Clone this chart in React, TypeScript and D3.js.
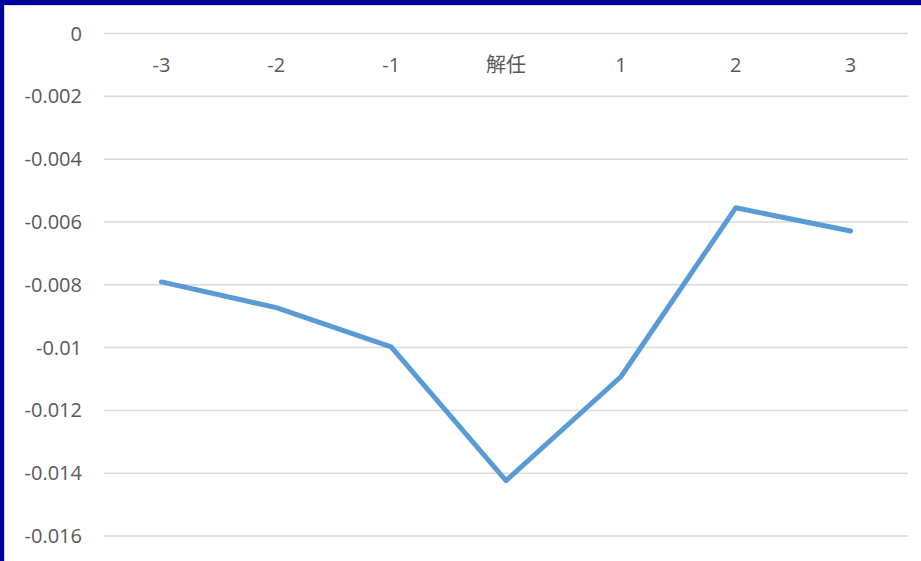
import React from "react";
import * as d3 from "d3";

const categories = ["-3", "-2", "-1", "解任", "1", "2", "3"];
const values = [-0.00791, -0.00873, -0.00998, -0.01424, -0.01093, -0.00555, -0.00629];
const yTicks = [0, -0.002, -0.004, -0.006, -0.008, -0.01, -0.012, -0.014, -0.016];

const W = 921;
const H = 561;

export default function App() {
  const x = d3.scaleBand<string>().domain(categories).range([104, 908]);
  const y = d3.scaleLinear().domain([-0.016, 0]).range([536, 33.5]);
  const line = d3
    .line<number>()
    .x((_, i) => (x(categories[i]) as number) + x.bandwidth() / 2)
    .y((d) => y(d));
  const font = "'Open Sans', 'Noto Sans CJK JP', sans-serif";
  return (
    <svg
      width={W}
      height={H}
      style={{ position: "absolute", left: 0, top: 0, background: "#fff" }}
    >
      <rect x={0} y={0} width={W} height={H} fill="#fff" />
      {yTicks.map((t) => (
        <g key={t}>
          <line
            x1={104}
            x2={908}
            y1={y(t)}
            y2={y(t)}
            stroke="#D9D9D9"
            strokeWidth={1.5}
          />
          <text
            x={82}
            y={y(t) + 7}
            textAnchor="end"
            fontFamily={font}
            fontSize={20}
            fill="#595959"
          >
            {String(t)}
          </text>
        </g>
      ))}
      {categories.map((c) => (
        <text
          key={c}
          x={(x(c) as number) + x.bandwidth() / 2}
          y={72}
          textAnchor="middle"
          fontFamily={font}
          fontSize={20}
          fill="#595959"
        >
          {c}
        </text>
      ))}
      <path
        d={line(values) || ""}
        fill="none"
        stroke="#5B9BD5"
        strokeWidth={5}
        strokeLinejoin="round"
        strokeLinecap="round"
      />
      <rect x={0} y={0} width={W} height={5} fill="#00009C" />
      <rect x={0} y={0} width={4} height={H} fill="#00009C" />
      <line x1={4} x2={W} y1={5.5} y2={5.5} stroke="#D9D9D9" strokeWidth={1} />
      <line x1={4.5} x2={4.5} y1={5} y2={H} stroke="#D9D9D9" strokeWidth={1} />
    </svg>
  );
}
